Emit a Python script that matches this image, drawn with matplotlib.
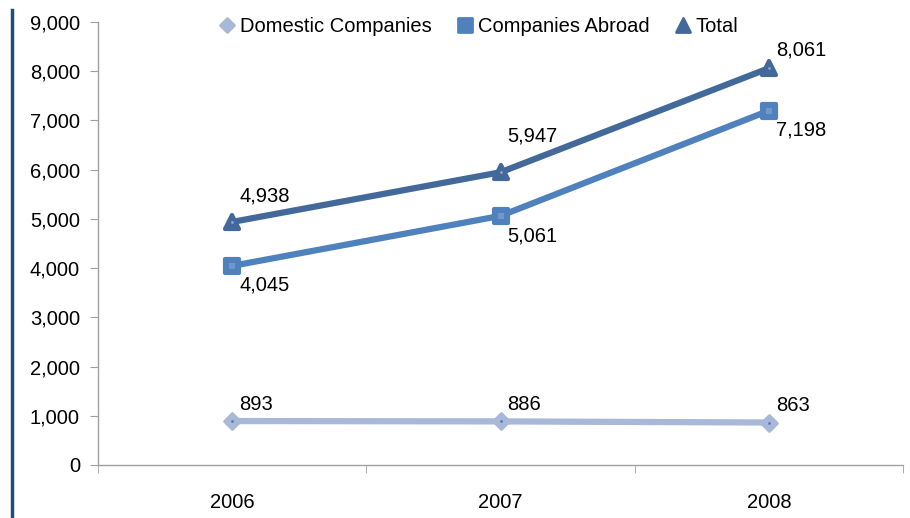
import matplotlib
matplotlib.use("Agg")
import matplotlib.pyplot as plt
from matplotlib.lines import Line2D
from matplotlib.markers import MarkerStyle

years = ["2006", "2007", "2008"]
domestic = [893, 886, 863]
abroad = [4045, 5061, 7198]
total = [4938, 5947, 8061]

plt.rcParams["font.family"] = ["Liberation Sans", "DejaVu Sans"]
FS = 14.5

fig = plt.figure(figsize=(9.10, 5.18), dpi=100)
ax = fig.add_axes([98 / 910, 1 - 465 / 518, (903 - 98) / 910, (465 - 22) / 518])

x = list(range(len(years)))
c_dom, c_abr, c_tot = "#A7B8D9", "#4F81BD", "#43699A"


def rmark(m):
    return MarkerStyle(m, joinstyle="round")


line_kw = dict(solid_capstyle="round", solid_joinstyle="round", zorder=3)
ax.plot(x, domestic, color=c_dom, lw=4.5, marker=rmark("D"), ms=8, mfc=c_dom, mec=c_dom,
        mew=2, **line_kw)
ax.plot(x, abroad, color=c_abr, lw=4.5, marker=rmark("s"), ms=10, mfc=c_abr, mec=c_abr,
        mew=3, **line_kw)
ax.plot(x, total, color=c_tot, lw=4.5, marker=rmark("^"), ms=10, mfc=c_tot, mec=c_tot,
        mew=3, **line_kw)

# small highlight inside each marker
for series, col, mk, s in ((domestic, "#5A7AB0", "o", 2), (abroad, "#6F98CC", "s", 5),
                           (total, "#8FA8C8", "o", 2)):
    ax.plot(x, series, ls="none", marker=mk, ms=s, mfc=col, mec=col, mew=0, zorder=4)

# value labels with pixel offsets
offsets = {
    "dom": [(7, 17), (7, 17), (7, 17)],
    "abr": [(7, -19), (7, -20), (7, -19)],
    "tot": [(7, 26), (7, 36), (7, 18)],
}
for key, series in (("dom", domestic), ("abr", abroad), ("tot", total)):
    for i, v in enumerate(series):
        ax.annotate(f"{v:,}", (x[i], v), xytext=offsets[key][i], textcoords="offset pixels",
                    ha="left", va="center", fontsize=FS, color="#000000")

ax.set_xlim(-0.5, 2.5)
ax.set_ylim(0, 9000)
ax.set_yticks(range(0, 9001, 1000))
ax.set_yticklabels([f"{v:,}" for v in range(0, 9001, 1000)], fontsize=FS)
ax.set_xticks(x)
ax.set_xticklabels(years, fontsize=FS)
ax.set_xticks([-0.5, 0.5, 1.5, 2.5], minor=True)
ax.tick_params(axis="x", which="major", length=0, pad=20)
ax.tick_params(axis="x", which="minor", length=6, color="#A0A0A0", direction="out")
ax.tick_params(axis="y", length=6, color="#A0A0A0", direction="out", pad=7)

for s in ("top", "right"):
    ax.spines[s].set_visible(False)
for s in ("left", "bottom"):
    ax.spines[s].set_color("#A0A0A0")
    ax.spines[s].set_linewidth(1)

handles = [
    Line2D([], [], ls="none", marker=rmark("D"), ms=7, mfc=c_dom, mec=c_dom, mew=2),
    Line2D([], [], ls="none", marker=rmark("s"), ms=10, mfc=c_abr, mec=c_abr, mew=2),
    Line2D([], [], ls="none", marker=rmark("^"), ms=10, mfc=c_tot, mec=c_tot, mew=2),
]
fig.legend(handles, ["Domestic Companies", "Companies Abroad", "Total"],
           loc="center", bbox_to_anchor=(477 / 910, 1 - 27 / 518), ncol=3, frameon=False,
           fontsize=FS, handletextpad=0.1, columnspacing=1.1, handlelength=1.1)

# vertical accent bar on the left edge
fig.add_artist(Line2D([12 / 910, 12 / 910], [0, 1 - 10 / 518], color="#1F4E79", lw=2.5))

fig.savefig("out.png", dpi=100)
